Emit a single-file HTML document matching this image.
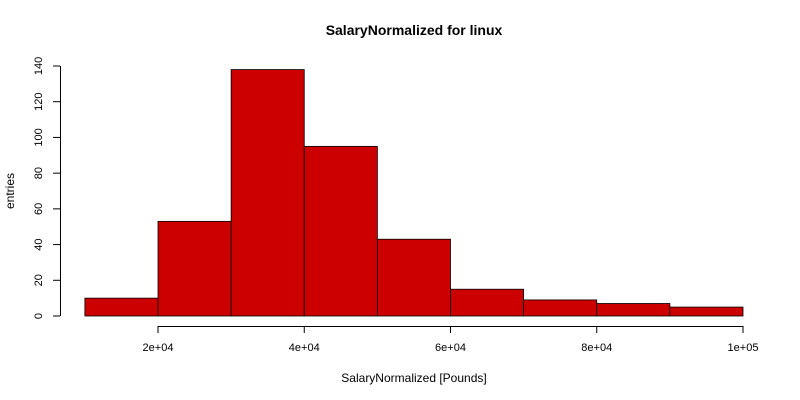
<!DOCTYPE html>
<html><head><meta charset="utf-8"><style>
body{margin:0;background:#fff;}
svg{display:block;font-family:"Liberation Sans",Arial,sans-serif;}
</style></head><body>
<svg id="chart" width="800" height="400">
<rect width="800" height="400" fill="#fff"/>
<text x="414" y="35" text-anchor="middle" font-weight="bold" font-size="14">SalaryNormalized for linux</text>
<text x="414" y="382" text-anchor="middle" font-size="12">SalaryNormalized [Pounds]</text>
<text transform="translate(14,191) rotate(-90)" text-anchor="middle" font-size="12">entries</text>
<g id="bars"></g><g id="xaxis"></g><g id="yaxis"></g>
</svg>
<script>
const binStarts=[10000,20000,30000,40000,50000,60000,70000,80000,90000];
const binWidth=10000;
const counts=[10,53,138,95,43,15,9,7,5];
const xTicks=[20000,40000,60000,80000,100000];
const xTickLabels=["2e+04","4e+04","6e+04","8e+04","1e+05"];
const yTicks=[0,20,40,60,80,100,120,140];

const NS="http://www.w3.org/2000/svg";
function sx(v){return 158+(v-20000)*(743-158)/80000;}
function sy(v){return 316-v*250/140;}
function mk(tag,attrs,parent){const e=document.createElementNS(NS,tag);for(const k in attrs)e.setAttribute(k,attrs[k]);parent.appendChild(e);return e;}
const bars=document.getElementById('bars');
binStarts.forEach((b,i)=>{
  const x0=sx(b),x1=sx(b+binWidth),y=sy(counts[i]);
  const r=mk('rect',{x:x0,y:y,width:x1-x0,height:sy(0)-y,fill:'#CD0000',stroke:'#000','stroke-width':0.8},bars);
  
  
});
const xa=document.getElementById('xaxis');


mk('line',{x1:sx(xTicks[0]),x2:sx(xTicks[xTicks.length-1]),y1:326.5,y2:326.5,stroke:'#000'},xa);
xTicks.forEach((t,i)=>{
  mk('line',{x1:sx(t),x2:sx(t),y1:326,y2:333,stroke:'#000'},xa);
  const tx=mk('text',{x:sx(t),y:351,'text-anchor':'middle','font-size':11},xa);
  tx.textContent=xTickLabels[i];
  
  
});
const ya=document.getElementById('yaxis');


mk('line',{x1:60.5,x2:60.5,y1:sy(yTicks[yTicks.length-1]),y2:sy(0),stroke:'#000'},ya);
yTicks.forEach(t=>{
  mk('line',{x1:53,x2:60,y1:sy(t),y2:sy(t),stroke:'#000'},ya);
  const tx=mk('text',{transform:`translate(42,${sy(t)}) rotate(-90)`,'text-anchor':'middle','font-size':11},ya);
  tx.textContent=t;
  
  
});
</script>
</body></html>
